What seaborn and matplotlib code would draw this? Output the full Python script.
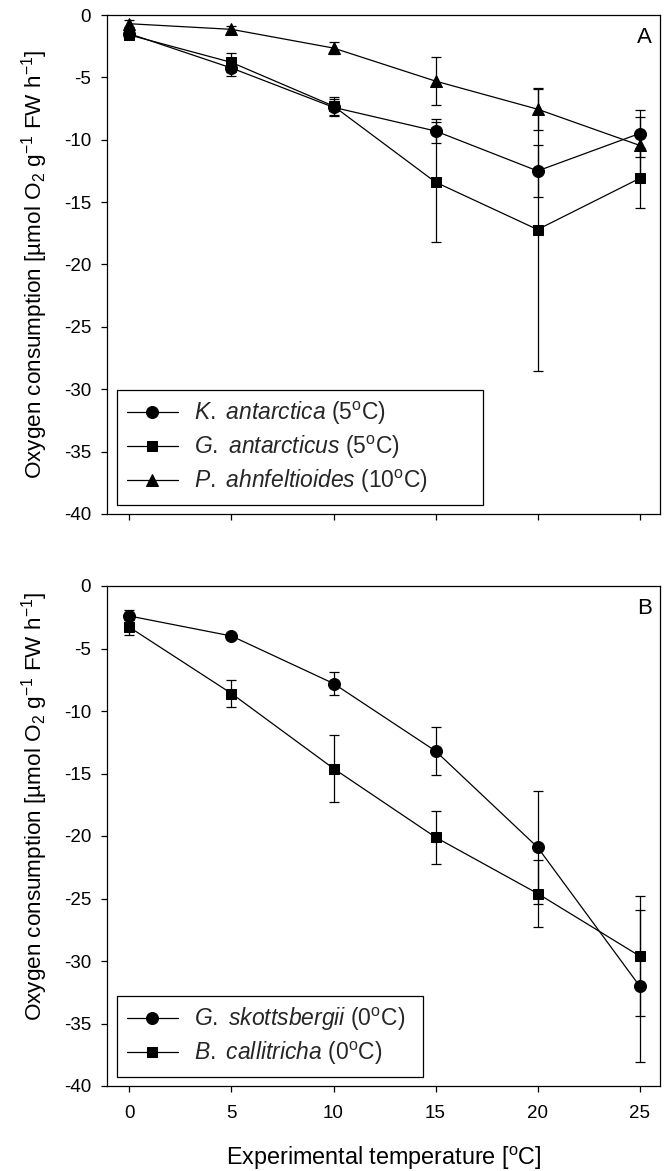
import matplotlib
matplotlib.use("Agg")
import matplotlib.pyplot as plt
import seaborn as sns

# Temperaturas experimentales (eje x, comunes a ambos paneles)
temps = [0, 5, 10, 15, 20, 25]

# Panel A
k_antarctica = [-1.5, -4.25, -7.4, -9.3, -12.5, -9.5]
k_antarctica_err = [0.3, 0.6, 0.7, 1.0, 2.1, 1.9]
g_antarcticus = [-1.6, -3.8, -7.3, -13.4, -17.2, -13.1]
g_antarcticus_err = [0.3, 0.75, 0.75, 4.8, 11.3, 2.4]
p_ahnfeltioides = [-0.7, -1.15, -2.65, -5.3, -7.55, -10.45]
p_ahnfeltioides_err = [0.3, 0.3, 0.5, 1.9, 1.7, 2.3]

# Panel B
g_skottsbergii = [-2.4, -4.0, -7.8, -13.2, -20.9, -32.0]
g_skottsbergii_err = [0.5, 0.2, 0.9, 1.9, 4.5, 6.1]
b_callitricha = [-3.3, -8.6, -14.6, -20.1, -24.6, -29.6]
b_callitricha_err = [0.6, 1.1, 2.7, 2.1, 2.7, 4.8]

yticks = [0, -5, -10, -15, -20, -25, -30, -35, -40]

sns.set_theme(style="ticks")
plt.rcParams["font.family"] = ["Liberation Sans", "DejaVu Sans"]
plt.rcParams["mathtext.fontset"] = "custom"
plt.rcParams["mathtext.rm"] = "Liberation Sans"
plt.rcParams["mathtext.it"] = "Liberation Sans:italic"
plt.rcParams["axes.unicode_minus"] = False

deg = r"$^{\rm o}$"
lbl_k = r"$\it{K.}$ $\it{antarctica}$ (5" + deg + "C)"
lbl_g = r"$\it{G.}$ $\it{antarcticus}$ (5" + deg + "C)"
lbl_p = r"$\it{P.}$ $\it{ahnfeltioides}$ (10" + deg + "C)"
lbl_gs = r"$\it{G.}$ $\it{skottsbergii}$ (0" + deg + "C)"
lbl_bc = r"$\it{B.}$ $\it{callitricha}$ (0" + deg + "C)"

fig = plt.figure(figsize=(6.64, 11.71), dpi=100)
W, H = 664, 1171
axA = fig.add_axes([107 / W, 1 - 514 / H, 553 / W, 499 / H])
axB = fig.add_axes([107 / W, 1 - 1086 / H, 553 / W, 500 / H])


def dibujar(ax, series):
    for label, vals, errs, marker, ms in series:
        ax.errorbar(temps, vals, yerr=errs, fmt="none", ecolor="black",
                    elinewidth=0.9, capsize=3.6, capthick=0.9, zorder=2,
                    label="_nolegend_")
        sns.lineplot(x=temps, y=vals, ax=ax, color="black", marker=marker,
                     markersize=ms, markeredgecolor="black", linewidth=0.9,
                     label=label, errorbar=None, zorder=3)


dibujar(axA, [(lbl_k, k_antarctica, k_antarctica_err, "o", 8.6),
              (lbl_g, g_antarcticus, g_antarcticus_err, "s", 7.4),
              (lbl_p, p_ahnfeltioides, p_ahnfeltioides_err, "^", 9.0)])
dibujar(axB, [(lbl_gs, g_skottsbergii, g_skottsbergii_err, "o", 8.6),
              (lbl_bc, b_callitricha, b_callitricha_err, "s", 7.4)])

ylabel = "Oxygen consumption [µmol O$_2$ g$^{-1}$ FW h$^{-1}$]"
for ax, letra, ly, x1 in [(axA, "A", 0.5, 0.68), (axB, "B", 0.56, 0.571)]:
    ax.set_xlim(-1.1, 26)
    ax.set_ylim(-40, 0)
    ax.set_xticks(temps)
    ax.set_yticks(yticks)
    ax.tick_params(direction="out", length=4.5, width=0.9, labelsize=13.5,
                   color="black", labelcolor="black")
    ax.tick_params(axis="x", pad=9)
    ax.tick_params(axis="y", pad=7)
    for sp in ax.spines.values():
        sp.set_color("black")
        sp.set_linewidth(0.9)
    ax.set_ylabel(ylabel, fontsize=16.2, color="black")
    ax.yaxis.set_label_coords(-0.103, ly)
    ax.text(0.986, 0.975, letra, transform=ax.transAxes, ha="right",
            va="top", fontsize=16, color="black")
    leg = ax.legend(loc="lower left", bbox_to_anchor=(0.018, 0.018, x1 - 0.018, 0.2),
                    mode="expand", borderaxespad=0, frameon=True, fancybox=False,
                    edgecolor="black", framealpha=1, fontsize=16.5,
                    handlelength=2.2, handletextpad=0.7, labelspacing=0.28,
                    borderpad=0.45)
    leg.get_frame().set_linewidth(0.9)

axA.tick_params(axis="x", labelbottom=False)
axA.set_xlabel("")
axB.set_xlabel("Experimental temperature [" + deg + "C]", fontsize=16.8, color="black")
axB.xaxis.label.set_va("baseline")
axB.xaxis.set_label_coords(0.5, -0.158)

fig.savefig("out.png", dpi=100)
